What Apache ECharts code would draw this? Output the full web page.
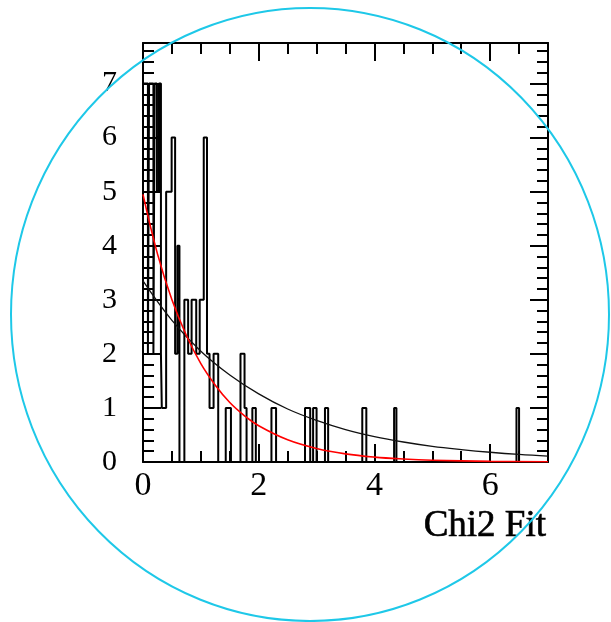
<!DOCTYPE html>
<html><head><meta charset="utf-8">
<script src="https://cdn.jsdelivr.net/npm/echarts@6/dist/echarts.min.js"></script>
<style>html,body{margin:0;padding:0;background:#fff}#c{width:611px;height:622px}</style>
</head><body><div id="c"></div>
<script>
// Histogram outline: bin edges (x) and the count in each run between edges
const histEdges = [0.000, 0.085, 0.105, 0.180, 0.200, 0.240, 0.275, 0.310, 0.325, 0.400,
  0.495, 0.555, 0.595, 0.630, 0.715, 0.780, 0.840, 0.920, 0.980, 1.050,
  1.106, 1.150, 1.220, 1.300, 1.430, 1.520, 1.685, 1.755, 1.790, 1.890,
  1.950, 2.220, 2.300, 2.800, 2.890, 2.940, 3.000, 3.145, 3.200, 3.790,
  3.860, 4.340, 4.380, 6.455, 6.500, 7.000];
const histCounts = [7, 2, 7, 2, 7, 5, 7, 2, 1, 5,
  6, 2, 4, 0, 3, 2, 3, 2, 3, 6,
  2, 1, 2, 0, 1, 0, 2, 1, 0, 1,
  0, 1, 0, 1, 0, 1, 0, 1, 0, 1,
  0, 1, 0, 1, 0];
// Fit curves
const blackFitX = [0, 0.5, 1, 1.5, 2, 2.5, 3, 3.5, 4, 4.5, 5, 5.5, 6, 6.5, 7];
const blackFitY = [3.35, 2.62, 2.05, 1.61, 1.26, 0.98, 0.77, 0.60, 0.47, 0.37, 0.29, 0.23, 0.18, 0.14, 0.11];
const redFitX = [0, 0.25, 0.5, 0.75, 1, 1.25, 1.5, 1.75, 2, 2.5, 3, 3.5, 4, 4.5, 5, 6, 7];
const redFitY = [4.95, 3.85, 3.00, 2.34, 1.82, 1.42, 1.10, 0.86, 0.67, 0.41, 0.25, 0.15, 0.09, 0.055, 0.033, 0.012, 0.005];
// Axis ranges / ticks
const xMin = 0, xMax = 7, xMajor = 2, xMinor = 0.5;
const yMin = 0, yMax = 7.75, yMajor = 1, yMinor = 0.2;
const xTitle = 'Chi2 Fit';

const histData = [[histEdges[0], 0]];
for (let i = 0; i < histCounts.length; i++) histData.push([histEdges[i], histCounts[i]]);
histData.push([histEdges[histEdges.length - 1], histCounts[histCounts.length - 1]]);
histData.push([histEdges[histEdges.length - 1], 0]);

const serif = '"Liberation Serif","DejaVu Serif",serif';
const black = '#000';
function xa(pos, interval, len, labels, line) {
  return {
    type: 'value', position: pos, min: xMin, max: xMax, interval: interval,
    axisLine: {show: line, onZero: false, lineStyle: {color: black, width: 2}},
    axisTick: {show: true, inside: true, length: len, lineStyle: {color: black, width: 2}},
    axisLabel: {show: labels, showMaxLabel: false, margin: 7, color: black,
      fontFamily: serif, fontSize: 34},
    splitLine: {show: false}
  };
}
function ya(pos, interval, len, labels, line) {
  return {
    type: 'value', position: pos, min: yMin, max: yMax, interval: interval,
    axisLine: {show: line, onZero: false, lineStyle: {color: black, width: 2}},
    axisTick: {show: true, inside: true, length: len, lineStyle: {color: black, width: 2}},
    axisLabel: {show: labels, showMaxLabel: false, margin: 26, color: black,
      fontFamily: serif, fontSize: 30},
    splitLine: {show: false}
  };
}

const chart = echarts.init(document.getElementById('c'), null, {renderer: 'canvas'});
chart.setOption({
  animation: false,
  backgroundColor: '#fff',
  grid: {left: 143, right: 63, top: 43, bottom: 160},
  xAxis: [xa('bottom', xMajor, 18, true, true), xa('bottom', xMinor, 11, false, false),
          xa('top', xMajor, 18, false, true), xa('top', xMinor, 11, false, false)],
  yAxis: [ya('left', yMajor, 18, true, true), ya('left', yMinor, 11, false, false),
          ya('right', yMajor, 18, false, true), ya('right', yMinor, 11, false, false)],
  series: [
    {type: 'line', name: 'hist', data: histData, step: 'end', showSymbol: false,
     lineStyle: {color: black, width: 2}, z: 3},
    {type: 'line', name: 'fit1', data: blackFitX.map((x, i) => [x, blackFitY[i]]), smooth: 0.4,
     showSymbol: false, lineStyle: {color: '#111', width: 1.3}, z: 4},
    {type: 'line', name: 'fit2', data: redFitX.map((x, i) => [x, redFitY[i]]), smooth: 0.4,
     showSymbol: false, lineStyle: {color: '#ff0000', width: 1.6}, z: 5}
  ],
  graphic: [
    {type: 'text', x: 546, y: 526, z: 10,
     style: {text: xTitle, font: '37px ' + serif, fill: black, stroke: black, lineWidth: 0.6,
             align: 'right', verticalAlign: 'middle'}},
    {type: 'circle', x: 310, y: 314.5, scaleY: 306.5 / 299, z: 20, silent: true,
     shape: {cx: 0, cy: 0, r: 299},
     style: {fill: 'none', stroke: '#1ec8e8', lineWidth: 2}}
  ]
});
</script></body></html>
